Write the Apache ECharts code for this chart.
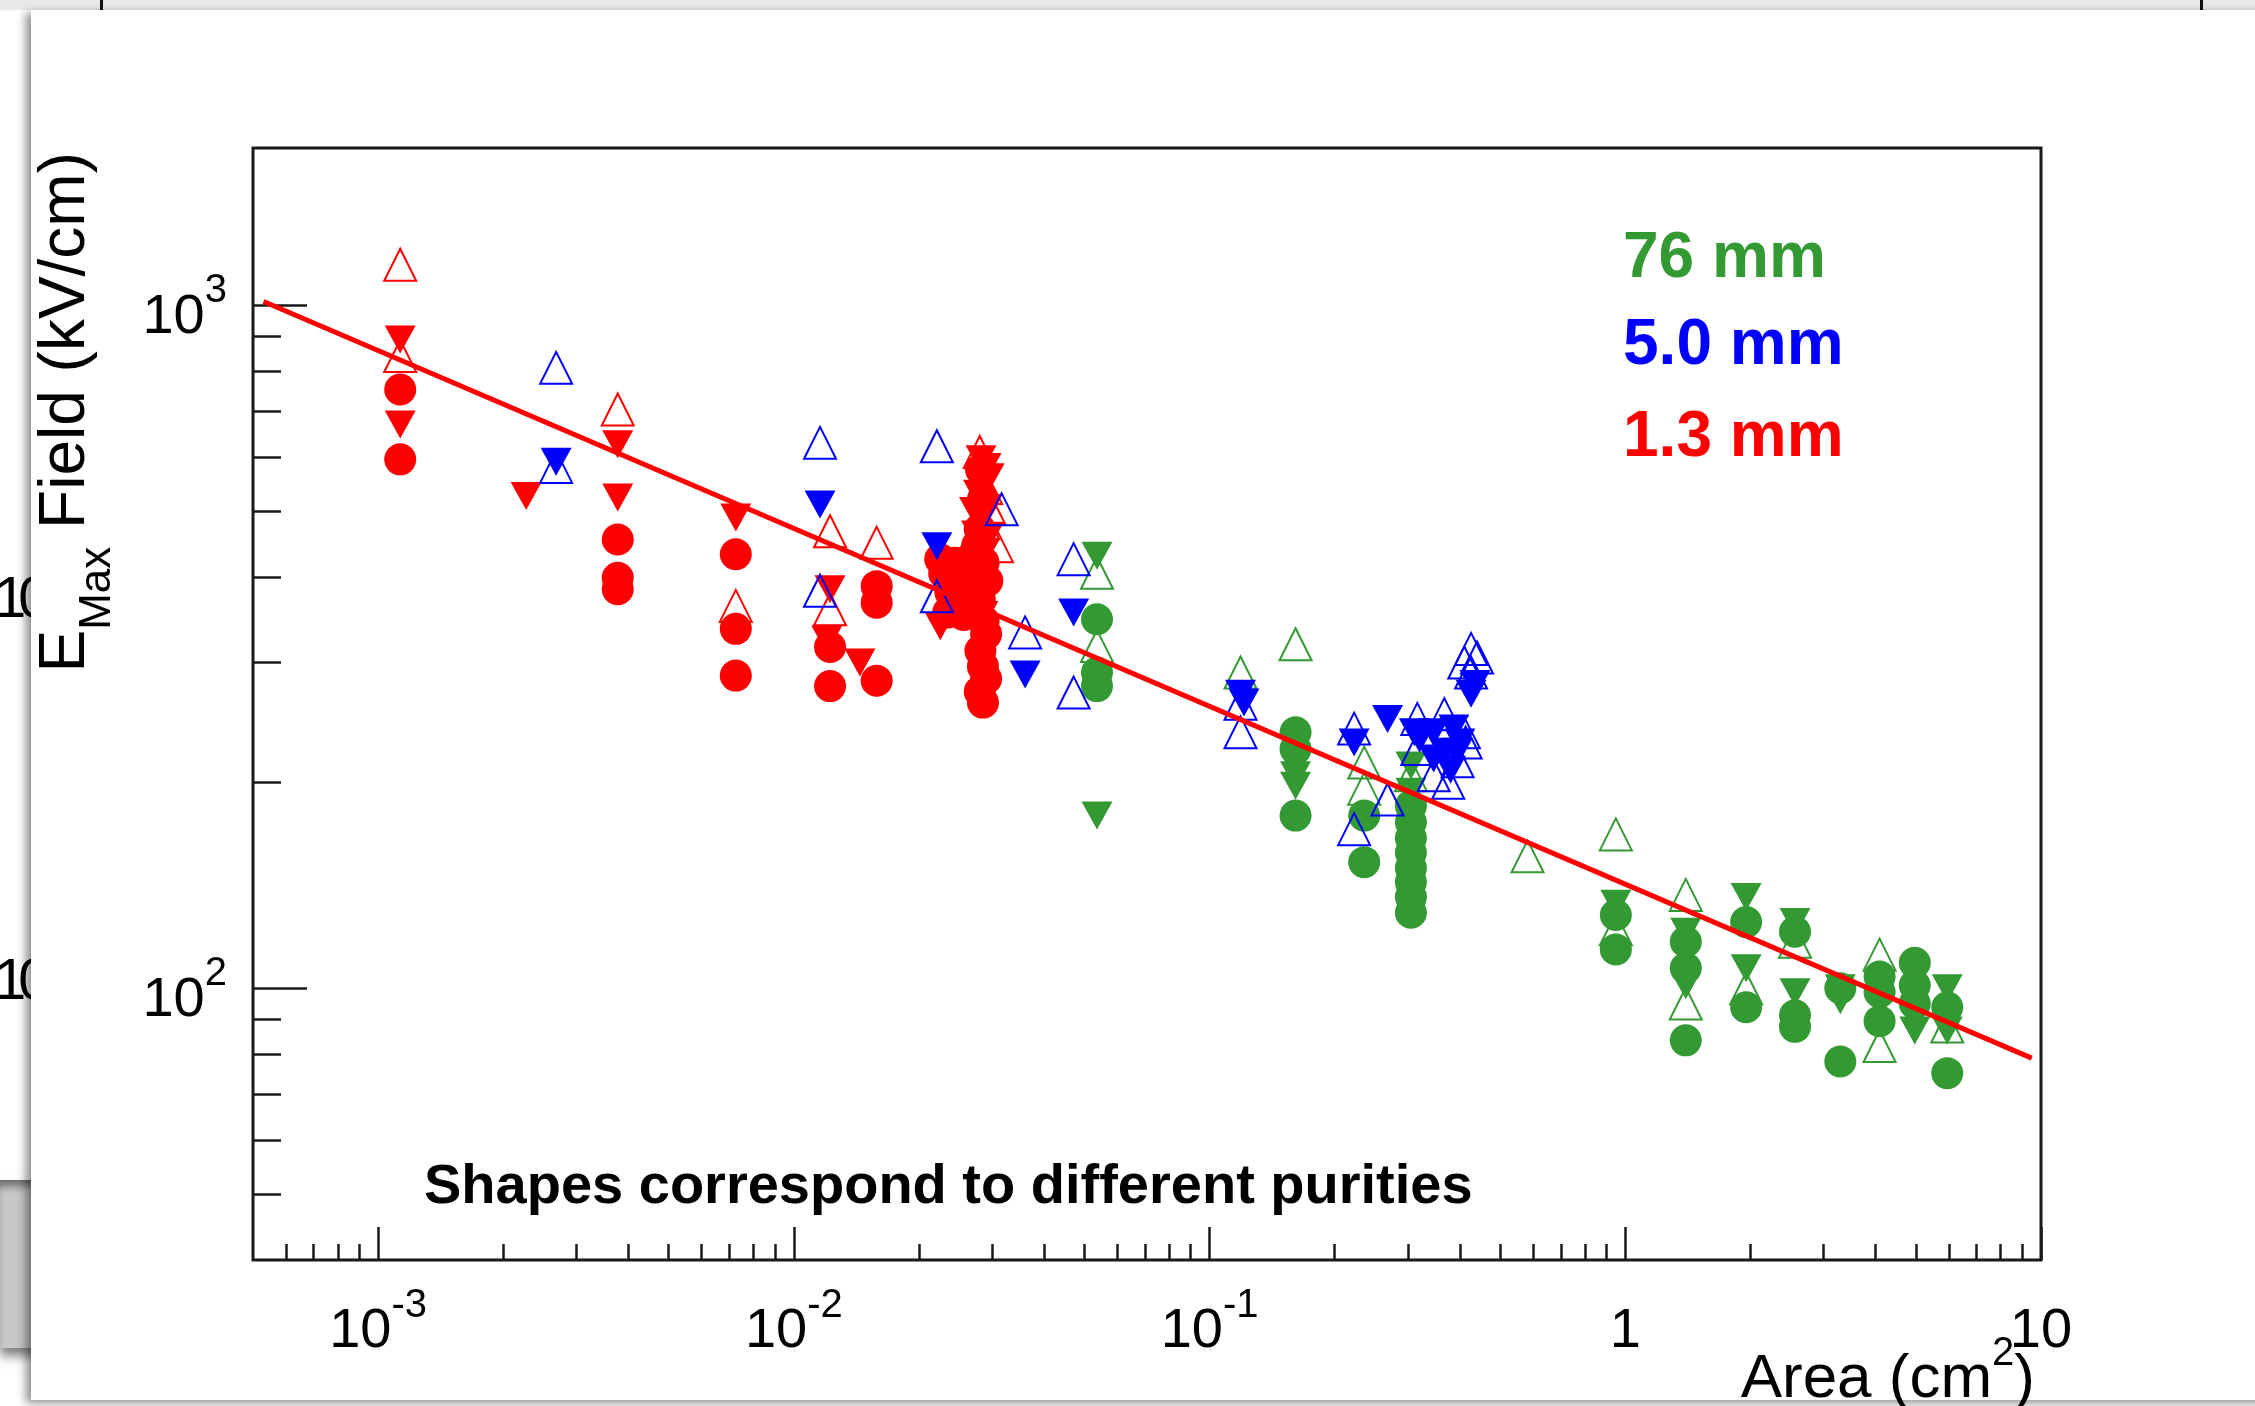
<!DOCTYPE html>
<html>
<head>
<meta charset="utf-8">
<title>EMax field vs area</title>
<script src="https://cdn.jsdelivr.net/npm/echarts@6/dist/echarts.min.js"></script>
<style>
  html, body { margin: 0; padding: 0; background: #fff; overflow: hidden; }
  #page { position: relative; width: 2255px; height: 1406px; overflow: hidden; }
  .strip { position: absolute; left: 0; top: 0; width: 2255px; height: 10px; background: #e9e9e9; }
  .mark { position: absolute; top: 0; width: 3px; height: 11px; background: #111; }
  .behind { position: absolute; left: -6px; font: 58px 'Liberation Sans', Arial, sans-serif; letter-spacing: -8px; line-height: 1; color: #000; }
  .block { position: absolute; left: 0; top: 1180px; width: 40px; height: 168px; background: #c8c8c8;
           box-shadow: inset 0 10px 8px -4px #6a6a6a, 0 8px 10px rgba(0,0,0,0.5); }
  .card { position: absolute; left: 31px; top: 10px; width: 2260px; height: 1390px; background: #fff;
          box-shadow: -5px 3px 9px rgba(0,0,0,0.45); }
  #chart { position: absolute; left: 0; top: 0; width: 2255px; height: 1406px; }
</style>
</head>
<body>
<div id="page">
  <div class="strip"></div>
  <div class="mark" style="left:100px"></div>
  <div class="mark" style="left:2200px"></div>
  <div class="behind" style="top:568px">10</div>
  <div class="behind" style="top:950px">10</div>
  <div class="block"></div>
  <div class="card"></div>
  <div id="chart"></div>
</div>
<script>
// axis ranges and ticks (log scales)
const xRange = [5e-4, 10]
const yRange = [40, 1700]
const xMajorTicks = [0.001, 0.01, 0.1, 1, 10]
const xTickLabels = [['10', '-3'], ['10', '-2'], ['10', '-1'], ['1', ''], ['10', '']]
const yMajorTicks = [100, 1000]
const yTickLabels = [['10', '2'], ['10', '3']]
const minorSteps = [2, 3, 4, 5, 6, 7, 8, 9]

// Area (cm^2), E_max (kV/cm) -- 1.3 mm (red)
const redOpen = [
  [0.00113, 1147], [0.00113, 843], [0.00377, 704], [0.00725, 363], [0.01222, 467],
  [0.01222, 359], [0.01582, 449], [0.0280, 610], [0.0308, 444], [0.0290, 540],
  [0.0285, 480], [0.0278, 400], [0.0295, 505]
]
const redDown = [
  [0.00113, 891], [0.00113, 669], [0.00227, 526], [0.00377, 626], [0.00377, 523],
  [0.00725, 489], [0.01222, 384], [0.0120, 324], [0.01442, 300], [0.0225, 339],
  [0.0282, 595], [0.0290, 580], [0.0285, 555], [0.0278, 530], [0.0292, 505],
  [0.0283, 485], [0.0275, 462], [0.0288, 435], [0.0280, 410], [0.0268, 385],
  [0.0250, 365], [0.0240, 395], [0.0285, 352], [0.0290, 322], [0.0282, 300],
  [0.0295, 560], [0.0272, 500], [0.0294, 460]
]
const redCircle = [
  [0.00113, 753], [0.00113, 595], [0.00377, 454], [0.00377, 399], [0.00377, 384],
  [0.00725, 432], [0.00725, 336], [0.00725, 287], [0.01222, 316], [0.01222, 277],
  [0.01582, 388], [0.01582, 367], [0.01582, 282], [0.0225, 425], [0.0230, 405],
  [0.0238, 380], [0.0235, 355], [0.0282, 575], [0.0285, 520], [0.0280, 470],
  [0.0276, 445], [0.0286, 420], [0.0262, 415], [0.0252, 392], [0.0256, 352],
  [0.0280, 372], [0.0286, 345], [0.0290, 330], [0.0281, 312], [0.0285, 296],
  [0.0290, 284], [0.0280, 272], [0.0285, 262], [0.0270, 430], [0.0292, 395],
  [0.0266, 360], [0.0244, 420]
]

// 5.0 mm (blue)
const blueOpen = [
  [0.00268, 810], [0.00268, 580], [0.01156, 629], [0.01156, 382], [0.02208, 622],
  [0.02208, 375], [0.0316, 503], [0.0360, 332], [0.0471, 425], [0.0471, 271],
  [0.1187, 261], [0.1187, 237], [0.2227, 240], [0.2227, 171], [0.268, 189],
  [0.316, 248], [0.367, 252], [0.409, 237], [0.346, 205], [0.375, 200],
  [0.316, 224], [0.413, 229], [0.4256, 314], [0.41, 300], [0.44, 305],
  [0.4256, 290], [0.395, 215]
]
const blueDown = [
  [0.00268, 590], [0.01156, 511], [0.02208, 444], [0.0360, 288], [0.0471, 355],
  [0.1187, 270], [0.121, 262], [0.2227, 229], [0.268, 248], [0.311, 237],
  [0.346, 237], [0.387, 240], [0.367, 222], [0.346, 217], [0.395, 222],
  [0.38, 209], [0.32, 232], [0.40, 229], [0.4256, 270], [0.435, 279]
]

// 76 mm (green)
const greenOpen = [
  [0.0536, 406], [0.0536, 317], [0.1187, 290], [0.161, 319], [0.2355, 214],
  [0.2355, 196], [0.305, 205], [0.582, 156], [0.949, 168], [0.949, 122],
  [1.398, 137], [1.398, 95], [1.953, 100], [2.56, 117], [4.09, 112],
  [4.09, 82.3], [5.95, 87.9]
]
const greenDown = [
  [0.0536, 430], [0.0536, 179], [0.161, 205], [0.161, 198], [0.305, 212],
  [0.305, 194], [0.949, 133], [1.398, 121], [1.398, 101], [1.953, 136],
  [1.953, 107], [2.56, 125], [2.56, 98.7], [3.29, 100], [3.29, 96],
  [4.97, 86.7], [5.95, 100], [5.95, 86.7]
]
const greenCircle = [
  [0.0536, 347], [0.0536, 290], [0.0536, 277], [0.161, 237], [0.161, 224],
  [0.161, 179], [0.2355, 179], [0.2355, 153], [0.305, 185], [0.305, 175],
  [0.305, 166], [0.305, 158], [0.305, 150], [0.305, 143], [0.305, 136],
  [0.305, 129], [0.949, 128], [0.949, 114], [1.398, 117], [1.398, 107],
  [1.398, 83.9], [1.953, 125], [1.953, 93.8], [2.56, 121], [2.56, 91.3],
  [2.56, 87.8], [3.29, 100], [3.29, 78.1], [4.09, 104], [4.09, 98.7],
  [4.09, 89.5], [4.97, 109], [4.97, 101], [4.97, 95], [5.95, 93.8], [5.95, 75.1]
]

// power-law fit, end points
const fitLine = [[5.3e-4, 1013], [9.5, 79]]

const legendLabels = ['76 mm', '5.0 mm', '1.3 mm']
const note = 'Shapes correspond to different purities'

const FONT = "'Liberation Sans', Arial, Helvetica, sans-serif"
const GREEN = '#339933'
const BLUE = '#0000ff'
const RED = '#ff0000'
const INK = '#1a1a1a'

function minorTicks(range) {
  const out = []
  const lo = Math.floor(Math.log10(range[0]))
  const hi = Math.ceil(Math.log10(range[1]))
  for (let e = lo; e < hi; e++) {
    minorSteps.forEach(m => {
      const v = m * Math.pow(10, e)
      if (v > range[0] * 1.0001 && v < range[1] * 0.9999) out.push(v)
    })
  }
  return out
}

function tickLabel(ticks, labels) {
  return v => {
    const i = ticks.findIndex(t => Math.abs(Math.log10(t) - Math.log10(v)) < 1e-6)
    if (i < 0) return ''
    const [base, sup] = labels[i]
    return '{b|' + base + '}{s|' + (sup || '\u200b') + '}'
  }
}

// base sits in the middle of a tall line, the superscript hugs its top
const tickRich = {
  b: { fontFamily: FONT, fontSize: 56, lineHeight: 92, color: '#000', verticalAlign: 'middle' },
  s: { fontFamily: FONT, fontSize: 40, lineHeight: 40, color: '#000', verticalAlign: 'top' }
}

function logAxis(range, extra) {
  return Object.assign({
    type: 'log',
    logBase: 10,
    min: range[0],
    max: range[1],
    gridIndex: 0,
    axisLine: { show: false },
    splitLine: { show: false },
    minorTick: { show: false }
  }, extra)
}

function marker(name, data, color, kind) {
  const s = { name, type: 'scatter', data, silent: true }
  if (kind === 'open') {
    s.symbol = 'triangle'
    s.symbolSize = [32, 32]
    s.itemStyle = { color: 'rgba(0,0,0,0)', borderColor: color, borderWidth: 2, opacity: 1 }
  } else if (kind === 'down') {
    s.symbol = 'triangle'
    s.symbolRotate = 180
    s.symbolSize = [31, 28]
    s.itemStyle = { color, opacity: 1 }
  } else {
    s.symbol = 'circle'
    s.symbolSize = 32
    s.itemStyle = { color, opacity: 1 }
  }
  return s
}

const chart = echarts.init(document.getElementById('chart'), null, { renderer: 'canvas' })

chart.setOption({
  animation: false,
  grid: {
    left: 253, top: 148, width: 1788, height: 1112,
    show: true, borderColor: INK, borderWidth: 3,
    backgroundColor: 'rgba(0,0,0,0)',
    outerBoundsMode: 'none'
  },
  xAxis: [
    logAxis(xRange, {
      position: 'bottom',
      axisTick: { inside: true, length: 33, customValues: xMajorTicks, lineStyle: { color: INK, width: 2.5 } },
      axisLabel: { customValues: xMajorTicks, margin: 26, formatter: tickLabel(xMajorTicks, xTickLabels), rich: tickRich }
    }),
    logAxis(xRange, {
      position: 'bottom',
      axisTick: { inside: true, length: 16, customValues: minorTicks(xRange), lineStyle: { color: INK, width: 2.5 } },
      axisLabel: { show: false }
    })
  ],
  yAxis: [
    logAxis(yRange, {
      position: 'left',
      axisTick: { inside: true, length: 54, customValues: yMajorTicks, lineStyle: { color: INK, width: 2.5 } },
      axisLabel: {
        customValues: yMajorTicks, margin: 26, padding: [24, 0, 0, 0],
        formatter: tickLabel(yMajorTicks, yTickLabels), rich: tickRich
      }
    }),
    logAxis(yRange, {
      position: 'left',
      axisTick: { inside: true, length: 28, customValues: minorTicks(yRange), lineStyle: { color: INK, width: 2.5 } },
      axisLabel: { show: false }
    })
  ],
  graphic: [
    {
      type: 'text', x: 34, y: 152, rotation: Math.PI / 2, silent: true,
      style: {
        text: '{n|E}{sub|Max}{n| Field (kV/cm)}',
        align: 'right', verticalAlign: 'top',
        rich: {
          n: { fontFamily: FONT, fontSize: 64, lineHeight: 64, fill: '#000', verticalAlign: 'top' },
          sub: { fontFamily: FONT, fontSize: 44, lineHeight: 44, fill: '#000', padding: [42, 0, 0, 0], verticalAlign: 'top' }
        }
      }
    },
    {
      type: 'text', x: 2035, y: 1334, silent: true,
      style: {
        text: '{n|Area (cm}{s|2}{n|)}',
        align: 'right', verticalAlign: 'top',
        rich: {
          n: { fontFamily: FONT, fontSize: 62, lineHeight: 92, fill: '#000', verticalAlign: 'middle' },
          s: { fontFamily: FONT, fontSize: 40, lineHeight: 40, fill: '#000', verticalAlign: 'top' }
        }
      }
    },
    {
      type: 'text', x: 1623, y: 259, silent: true,
      style: { text: legendLabels[0], fill: GREEN, font: 'bold 64px ' + FONT, verticalAlign: 'middle' }
    },
    {
      type: 'text', x: 1623, y: 346, silent: true,
      style: { text: legendLabels[1], fill: BLUE, font: 'bold 64px ' + FONT, verticalAlign: 'middle' }
    },
    {
      type: 'text', x: 1623, y: 438, silent: true,
      style: { text: legendLabels[2], fill: RED, font: 'bold 64px ' + FONT, verticalAlign: 'middle' }
    },
    {
      type: 'text', x: 424, y: 1188, silent: true,
      style: { text: note, fill: '#000', font: 'bold 56px ' + FONT, verticalAlign: 'middle' }
    }
  ],
  series: [
    marker('76 mm open', greenOpen, GREEN, 'open'),
    marker('76 mm down', greenDown, GREEN, 'down'),
    marker('76 mm circle', greenCircle, GREEN, 'circle'),
    marker('1.3 mm open', redOpen, RED, 'open'),
    marker('1.3 mm down', redDown, RED, 'down'),
    marker('1.3 mm circle', redCircle, RED, 'circle'),
    marker('5.0 mm open', blueOpen, BLUE, 'open'),
    marker('5.0 mm down', blueDown, BLUE, 'down'),
    {
      name: 'fit',
      type: 'line',
      data: fitLine,
      symbol: 'none',
      silent: true,
      lineStyle: { color: RED, width: 5 },
      z: 5
    }
  ]
})
</script>
</body>
</html>
